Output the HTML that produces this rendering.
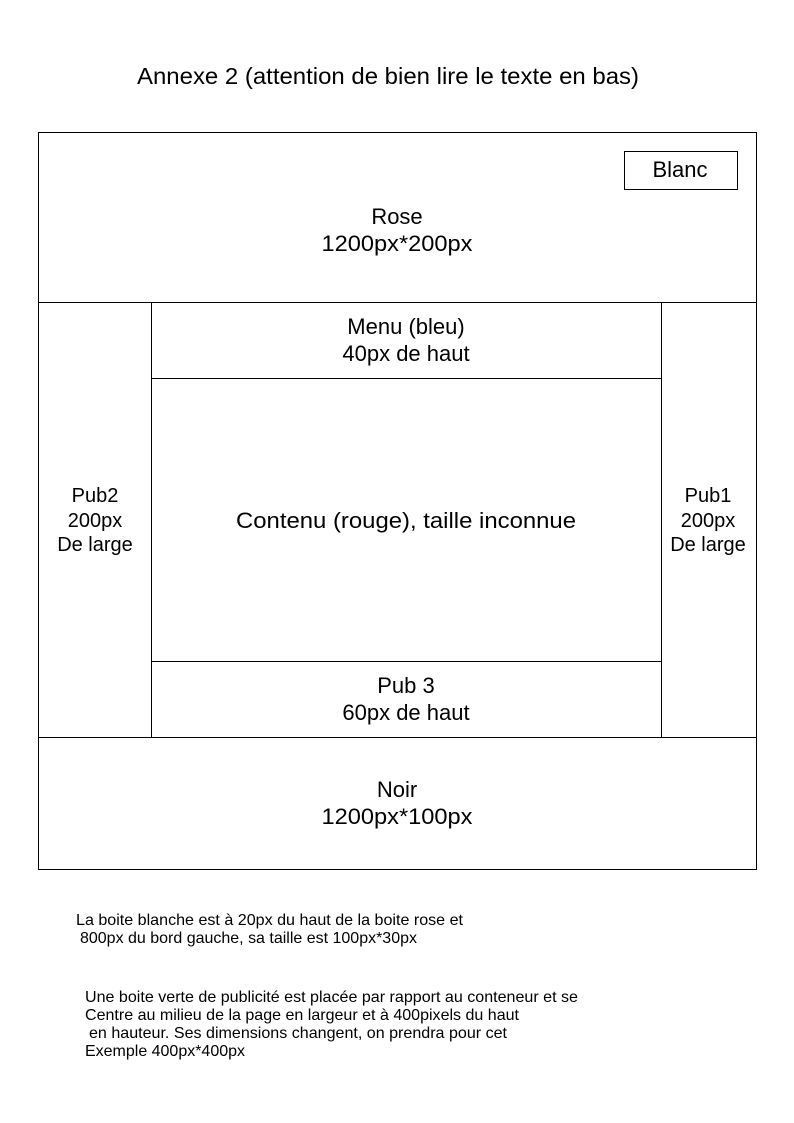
<!DOCTYPE html>
<html><head><meta charset="utf-8"><style>body{margin:0;background:#fff}svg{display:block}</style></head>
<body>
<svg width="794" height="1123" xmlns="http://www.w3.org/2000/svg" font-family="Liberation Sans, Arial, sans-serif" fill="#000">
<g fill="none" stroke="#000" stroke-width="1">
<rect x="38.5" y="132.5" width="718" height="737"/>
<line x1="38" y1="302.5" x2="757" y2="302.5"/>
<line x1="38" y1="737.5" x2="757" y2="737.5"/>
<line x1="151.5" y1="302" x2="151.5" y2="737"/>
<line x1="661.5" y1="302" x2="661.5" y2="737"/>
<line x1="151" y1="378.5" x2="661" y2="378.5"/>
<line x1="151" y1="661.5" x2="661" y2="661.5"/>
<rect x="624.5" y="151.5" width="113" height="38"/>
</g>
<text x="137" y="84" font-size="23" textLength="502" lengthAdjust="spacingAndGlyphs">Annexe 2 (attention de bien lire le texte en bas)</text>
<g font-size="22" text-anchor="middle">
<text x="680" y="177">Blanc</text>
<text x="397" y="224">Rose</text>
<text x="397" y="251" textLength="151" lengthAdjust="spacingAndGlyphs">1200px*200px</text>
<text x="406" y="334">Menu (bleu)</text>
<text x="406" y="361">40px de haut</text>
<text x="406" y="528" textLength="340" lengthAdjust="spacingAndGlyphs">Contenu (rouge), taille inconnue</text>
<text x="95" y="502" font-size="20">Pub2</text>
<text x="95" y="527" font-size="20">200px</text>
<text x="95" y="551" font-size="20">De large</text>
<text x="708" y="502" font-size="20">Pub1</text>
<text x="708" y="527" font-size="20">200px</text>
<text x="708" y="551" font-size="20">De large</text>
<text x="406" y="693">Pub 3</text>
<text x="406" y="720">60px de haut</text>
<text x="397" y="797">Noir</text>
<text x="397" y="824" textLength="151" lengthAdjust="spacingAndGlyphs">1200px*100px</text>
</g>
<g font-size="16" lengthAdjust="spacingAndGlyphs">
<text x="76" y="925" textLength="387" lengthAdjust="spacingAndGlyphs">La boite blanche est à 20px du haut de la boite rose et</text>
<text x="80" y="943" textLength="337" lengthAdjust="spacingAndGlyphs">800px du bord gauche, sa taille est 100px*30px</text>
<text x="85" y="1002" textLength="493" lengthAdjust="spacingAndGlyphs">Une boite verte de publicité est placée par rapport au conteneur et se</text>
<text x="85" y="1020" textLength="434" lengthAdjust="spacingAndGlyphs">Centre au milieu de la page en largeur et à 400pixels du haut</text>
<text x="89" y="1038" textLength="418" lengthAdjust="spacingAndGlyphs">en hauteur. Ses dimensions changent, on prendra pour cet</text>
<text x="85" y="1056" textLength="160" lengthAdjust="spacingAndGlyphs">Exemple 400px*400px</text>
</g>
</svg>
</body></html>
